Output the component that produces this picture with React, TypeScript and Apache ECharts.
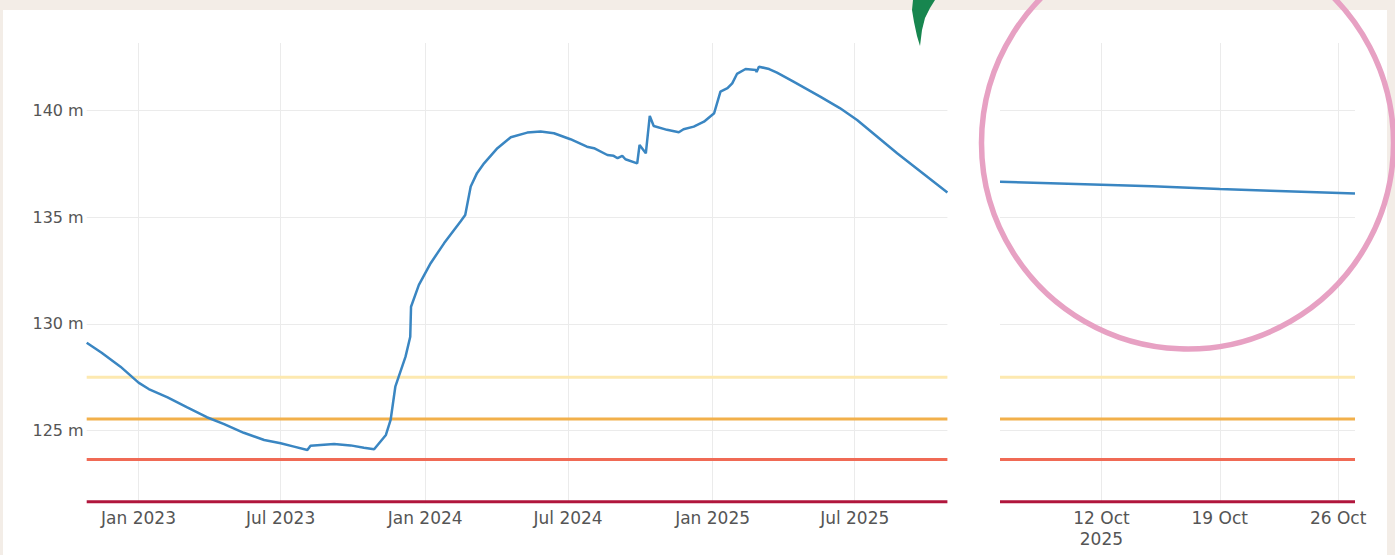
import React, { useEffect, useRef } from 'react';
import * as echarts from 'echarts';

// Reservoir level, long history (date, metres)
const levelDates = [
  '2022-10-27', '2022-11-15', '2022-12-09', '2023-01-01', '2023-01-14', '2023-02-07', '2023-03-04',
  '2023-03-29', '2023-04-20', '2023-05-15', '2023-06-10', '2023-07-01', '2023-07-18', '2023-08-04',
  '2023-08-08', '2023-09-07', '2023-09-28', '2023-10-15', '2023-10-28', '2023-11-12', '2023-11-18',
  '2023-11-24', '2023-12-07', '2023-12-13', '2023-12-14', '2023-12-24', '2024-01-08', '2024-01-25',
  '2024-02-15', '2024-02-21', '2024-02-28', '2024-03-07', '2024-03-16', '2024-04-02', '2024-04-19',
  '2024-05-10', '2024-05-27', '2024-06-13', '2024-07-04', '2024-07-25', '2024-08-03', '2024-08-20',
  '2024-08-28', '2024-09-02', '2024-09-08', '2024-09-12', '2024-09-27', '2024-09-30', '2024-10-08',
  '2024-10-13', '2024-10-18', '2024-11-04', '2024-11-19', '2024-11-25', '2024-12-08', '2024-12-21',
  '2025-01-03', '2025-01-11', '2025-01-20', '2025-01-26', '2025-02-01', '2025-02-12', '2025-02-25',
  '2025-02-26', '2025-03-01', '2025-03-14', '2025-03-24', '2025-04-14', '2025-05-18', '2025-06-12',
  '2025-07-04', '2025-08-24', '2025-10-27',
];
const levelValues = [
  129.12, 128.65, 128.0, 127.25, 126.95, 126.56, 126.09,
  125.63, 125.31, 124.9, 124.56, 124.41, 124.25, 124.09,
  124.29, 124.37, 124.31, 124.2, 124.13, 124.8, 125.5,
  127.06, 128.47, 129.4, 130.81, 131.83, 132.85, 133.78,
  134.8, 135.11, 136.44, 137.07, 137.53, 138.24, 138.75,
  138.97, 139.02, 138.94, 138.66, 138.31, 138.24, 137.92,
  137.88, 137.77, 137.88, 137.72, 137.53, 138.39, 138.0,
  139.75, 139.28, 139.1, 138.99, 139.13, 139.25, 139.48,
  139.88, 140.89, 141.05, 141.28, 141.72, 141.95, 141.91,
  141.81, 142.06, 141.95, 141.78, 141.36, 140.66, 140.12,
  139.56, 138.0, 136.16,
];

// Recent weeks (zoomed panel)
const recentDates = ['2025-10-06', '2025-10-09', '2025-10-12', '2025-10-15', '2025-10-19', '2025-10-22', '2025-10-27'];
const recentValues = [136.67, 136.6, 136.53, 136.45, 136.33, 136.25, 136.12];

// Alert thresholds
const thresholdValues = [127.5, 125.55, 123.65, 121.67];
const thresholdColors = ['#fde9b0', '#f2b04b', '#f06a55', '#b0163c'];

// Axis ranges and ticks
const longRange = ['2022-10-27', '2025-10-27'];
const recentRange = ['2025-10-06', '2025-10-27'];
const longTicks = ['2023-01-01', '2023-07-01', '2024-01-01', '2024-07-01', '2025-01-01', '2025-07-01'];
const recentTicks = ['2025-10-12', '2025-10-19', '2025-10-26'];
const yRange = [121.6, 143.17];
const MONTHS = ['Jan', 'Feb', 'Mar', 'Apr', 'May', 'Jun', 'Jul', 'Aug', 'Sep', 'Oct', 'Nov', 'Dec'];

const toTs = (s: string) => {
  const [y, m, d] = s.split('-').map(Number);
  return Date.UTC(y, m - 1, d);
};

const FONT = 'DejaVu Sans';
const TEXT = '#555555';
const GRID = '#ebebeb';

export default function App() {
  const ref = useRef<HTMLDivElement>(null);

  useEffect(() => {
    if (!ref.current) return;
    const chart = echarts.init(ref.current, undefined, { renderer: 'svg' });

    const longTickTs = longTicks.map(toTs);
    const recentTickTs = recentTicks.map(toTs);

    const yAxisFor = (i: number) => ({
      type: 'value',
      gridIndex: i,
      min: yRange[0],
      max: yRange[1],
      axisLine: { show: false },
      axisTick: { show: false },
      splitLine: { show: true, showMinLine: false, showMaxLine: false, lineStyle: { color: GRID, width: 1 } },
      axisLabel:
        i === 0
          ? {
              show: true,
              showMinLabel: false,
              showMaxLabel: false,
              formatter: (v: number) => (Math.abs(v % 5) < 1e-6 ? `${v} m` : ''),
              fontFamily: FONT,
              fontSize: 16,
              color: TEXT,
              margin: 3,
            }
          : { show: false },
    });

    const xAxisFor = (i: number, range: string[], ticks: number[], fmt: (v: number) => string) => ({
      type: 'value',
      gridIndex: i,
      min: toTs(range[0]),
      max: toTs(range[1]),
      axisLine: { show: false },
      axisTick: { show: false, customValues: ticks },
      splitLine: { show: true, lineStyle: { color: GRID, width: 1 } },
      axisLabel: {
        customValues: ticks,
        formatter: fmt,
        fontFamily: FONT,
        fontSize: 17,
        lineHeight: 21,
        color: TEXT,
        margin: 4,
        hideOverlap: false,
      },
    });

    const thresholdSeries = (i: number, range: string[]) =>
      thresholdValues.map((v, k) => ({
        type: 'line',
        xAxisIndex: i,
        yAxisIndex: i,
        silent: true,
        showSymbol: false,
        z: 1,
        lineStyle: { color: thresholdColors[k], width: 3 },
        data: [
          [toTs(range[0]), v],
          [toTs(range[1]), v],
        ],
      }));

    chart.setOption({
      animation: false,
      backgroundColor: '#f3ede7',
      grid: [
        { left: 86.7, right: 447.6, top: 43, bottom: 51.8 },
        { left: 1000, right: 40, top: 43, bottom: 51.8 },
      ],
      xAxis: [
        xAxisFor(0, longRange, longTickTs, (value: number) => {
          const d = new Date(value);
          return `${MONTHS[d.getUTCMonth()]} ${d.getUTCFullYear()}`;
        }),
        xAxisFor(1, recentRange, recentTickTs, (value: number) => {
          const d = new Date(value);
          const s = `${d.getUTCDate()} ${MONTHS[d.getUTCMonth()]}`;
          return value === recentTickTs[0] ? `${s}\n${d.getUTCFullYear()}` : s;
        }),
      ],
      yAxis: [yAxisFor(0), yAxisFor(1)],
      series: [
        ...thresholdSeries(0, longRange),
        ...thresholdSeries(1, recentRange),
        {
          type: 'line',
          xAxisIndex: 0,
          yAxisIndex: 0,
          showSymbol: false,
          z: 5,
          lineStyle: { color: '#3a86c2', width: 2.5 },
          data: levelDates.map((d, i) => [toTs(d), levelValues[i]]),
        },
        {
          type: 'line',
          xAxisIndex: 1,
          yAxisIndex: 1,
          showSymbol: false,
          z: 5,
          lineStyle: { color: '#3a86c2', width: 2.5 },
          data: recentDates.map((d, i) => [toTs(d), recentValues[i]]),
        },
      ],
      graphic: [
        {
          type: 'rect',
          z: -10,
          silent: true,
          shape: { x: 3, y: 10, width: 1384, height: 545 },
          style: { fill: '#ffffff' },
        },
        {
          type: 'polygon',
          z: 50,
          silent: true,
          shape: {
            points: [
              [913, 0], [935, 0], [930, 8], [925, 18], [922, 30], [920, 46], [917, 36], [914, 22], [912, 10],
            ],
          },
          style: { fill: '#17864f' },
        },
        {
          type: 'circle',
          z: 50,
          silent: true,
          shape: { cx: 1187.5, cy: 143, r: 206 },
          style: { fill: 'none', stroke: '#e7a1c3', lineWidth: 5.5 },
        },
      ],
    });

    return () => chart.dispose();
  }, []);

  return (
    <div
      ref={ref}
      style={{ position: 'fixed', left: 0, top: 0, width: 1395, height: 555 }}
    />
  );
}
